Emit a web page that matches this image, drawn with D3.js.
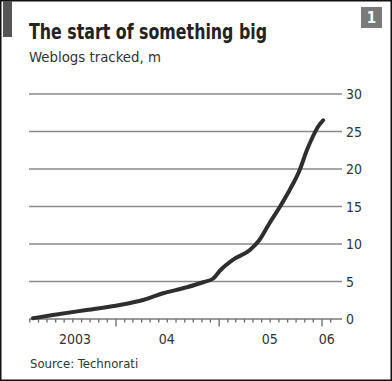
<!DOCTYPE html>
<html><head><meta charset="utf-8">
<script src="https://cdn.jsdelivr.net/npm/d3@7"></script>
<style>
html,body{margin:0;padding:0;background:#fff;}
svg{display:block;}
text{font-family:"DejaVu Sans Condensed","DejaVu Sans",sans-serif;}
</style></head>
<body>
<script>
const title = "The start of something big";
const subtitle = "Weblogs tracked, m";
const source = "Source: Technorati";
const dates = ["2003-03-14","2003-05-24","2003-09-20","2004-01-17","2004-04-08","2004-06-18","2004-09-10","2004-11-07","2004-12-13","2005-01-07","2005-02-21","2005-04-22","2005-05-25","2005-07-01","2005-08-07","2005-09-10","2005-10-16","2005-11-10","2005-12-01","2005-12-19","2006-01-07"];
const weblogs = [0.1,0.53,1.2,1.87,2.53,3.43,4.23,4.9,5.4,6.5,7.9,9.2,10.5,12.8,15,17.2,19.9,22.5,24.3,25.6,26.5];
const yTicks = [0,5,10,15,20,25,30];
const yearLabels = [{label:"2003",date:"2003-08-10"},{label:"04",date:"2004-07-01"},{label:"05",date:"2005-07-01"},{label:"06",date:"2006-01-20"}];

const W = 392, H = 381;
const svg = d3.select("body").append("svg").attr("width", W).attr("height", H);
const parse = d3.timeParse("%Y-%m-%d");

// frame
svg.append("rect").attr("x",0.75).attr("y",0.75).attr("width",W-1.5).attr("height",H-1.5)
  .attr("fill","#fff").attr("stroke","#111").attr("stroke-width",1.5);
svg.append("rect").attr("x",3).attr("y",1).attr("width",9).attr("height",36).attr("fill","#555");
svg.append("rect").attr("x",361).attr("y",7).attr("width",21).attr("height",21).attr("fill","#7a7a7a");
svg.append("text").attr("x",371.5).attr("y",23).attr("text-anchor","middle").attr("fill","#fff")
  .attr("font-size",15).attr("font-weight","bold").text("1");

svg.append("text").attr("x",29).attr("y",39).attr("font-size",21).attr("font-weight","bold")
  .attr("fill","#222").attr("textLength",238).attr("lengthAdjust","spacingAndGlyphs").text(title);
svg.append("text").attr("x",29).attr("y",62).attr("font-size",14)
  .attr("fill","#333").attr("textLength",132).attr("lengthAdjust","spacingAndGlyphs").text(subtitle);

const x = d3.scaleTime().domain([parse("2004-01-01"), parse("2006-01-01")]).range([115.5, 321.5]);
const y = d3.scaleLinear().domain([0,30]).range([319, 94]);
const xL = 29, xR = 342;

// gridlines
svg.append("g").selectAll("line").data(yTicks.filter(d=>d>0)).join("line")
  .attr("x1",xL).attr("x2",xR).attr("y1",d=>y(d)).attr("y2",d=>y(d))
  .attr("stroke","#8a8a8a").attr("stroke-width",1.5);
svg.append("g").selectAll("text").data(yTicks).join("text")
  .attr("x",346).attr("y",d=>y(d)+5).attr("font-size",14).attr("fill","#333").text(d=>d);

// x axis
const months = d3.timeMonth.range(parse("2003-03-01"), parse("2006-03-01"));
const xAxis = d3.axisBottom(x).tickValues(months)
  .tickSize(3.5).tickFormat("");
const gx = svg.append("g").attr("transform",`translate(0,${y(0)})`).call(xAxis);
gx.select(".domain").remove();
gx.selectAll(".tick line").attr("stroke","#666").attr("stroke-width",1.3)
  .attr("y2", d => d.getMonth()===0 ? 7.5 : 3.5);
svg.append("line").attr("x1",xL).attr("x2",xR).attr("y1",y(0)).attr("y2",y(0))
  .attr("stroke","#777").attr("stroke-width",1.5);
svg.append("g").selectAll("text").data(yearLabels).join("text")
  .attr("x",d=>x(parse(d.date))).attr("y",344).attr("text-anchor","middle")
  .attr("font-size",14).attr("fill","#333").text(d=>d.label);

// line
const data = dates.map((d,i)=>({date:parse(d), v:weblogs[i]}));
svg.append("path").datum(data)
  .attr("d", d3.line().x(d=>x(d.date)).y(d=>y(d.v)).curve(d3.curveMonotoneX))
  .attr("fill","none").attr("stroke","#2e2e2e").attr("stroke-width",4)
  .attr("stroke-linecap","round").attr("stroke-linejoin","round");

svg.append("text").attr("x",30).attr("y",368).attr("font-size",13).attr("fill","#333").text(source);
</script>
</body></html>
